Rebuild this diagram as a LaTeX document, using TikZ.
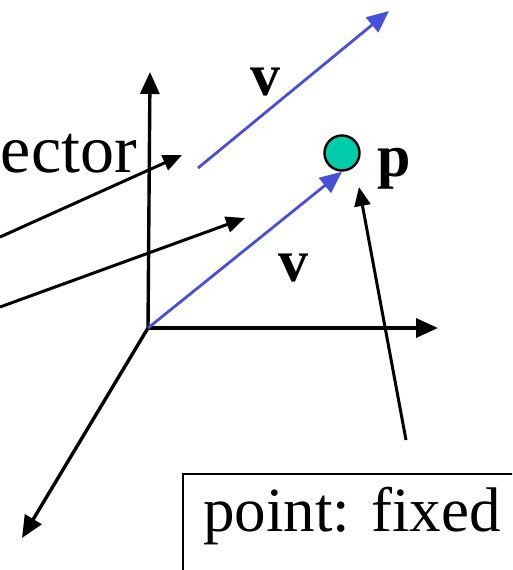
\documentclass[tikz,border=0pt]{standalone}
\usepackage{fontspec}
\setmainfont{Liberation Serif}
\usetikzlibrary{arrows.meta, positioning}
\definecolor{vectorblue}{RGB}{72,80,216}
\definecolor{pointgreen}{RGB}{0,204,170}
\frenchspacing

\begin{document}
\begin{tikzpicture}[x=1pt, y=-1pt,
    axis/.style={-{Triangle[length=22pt,width=19pt]}, line width=3.4pt},
    pointer/.style={-{Triangle[length=19pt,width=16pt]}, line width=3pt},
    vec/.style={-{Triangle[length=22pt,width=19pt]}, line width=2.8pt, color=vectorblue},
    bigtext/.style={inner sep=0pt, font=\fontsize{68}{72}\selectfont},
    boxtext/.style={draw, line width=2.2pt, anchor=north west, inner xsep=20pt, inner ysep=13pt, text width=330pt, text depth=60pt, align=left, font=\fontsize{63}{68}\selectfont},
    vlabel/.style={inner sep=0pt, font=\fontsize{60}{64}\selectfont\bfseries},
    dot/.style={circle, draw, line width=2.4pt, fill=pointgreen, minimum size=35pt, inner sep=0pt}]

    \useasboundingbox (0,0) rectangle (512,570);
    \clip (0,0) rectangle (512,570);

    % Nodes
    \coordinate (origin) at (148,328);
    \coordinate (yend) at (150,72);
    \coordinate (xend) at (438,328);
    \coordinate (zend) at (22,538);
    \node [dot] (pnt) at (342,153) {};
    \node [vlabel, anchor=base west] (plabel) at (377,176) {p};
    \node [vlabel, anchor=base west] (vtop) at (250,95) {v};
    \node [vlabel, anchor=base west] (vlow) at (278,281) {v};
    \node [bigtext, anchor=base east] (vectext) at (137,172) {ector};
    \node [boxtext] (fixed) at (182,473) {point: fixed};
    \coordinate (vstart) at (198,168);
    \coordinate (vend) at (389,11);
    \coordinate (tail1) at (0,237);
    \coordinate (head1) at (182,155);
    \coordinate (tail2) at (0,307);
    \coordinate (head2) at (245,218);
    \coordinate (ptail) at (406,440);
    \coordinate (phead) at (359,187);

    % Axes
    \draw [axis] (origin) -- (yend);
    \draw [axis] (origin) -- (xend);
    \draw [axis] (origin) -- (zend);

    % Vectors
    \draw [vec] (origin) -- (pnt.south);
    \draw [vec] (vstart) -- (vend);

    % Arrows
    \draw [pointer] (tail1) -- (head1);
    \draw [pointer] (tail2) -- (head2);
    \draw [pointer] (ptail) -- (phead);

\end{tikzpicture}
\end{document}
